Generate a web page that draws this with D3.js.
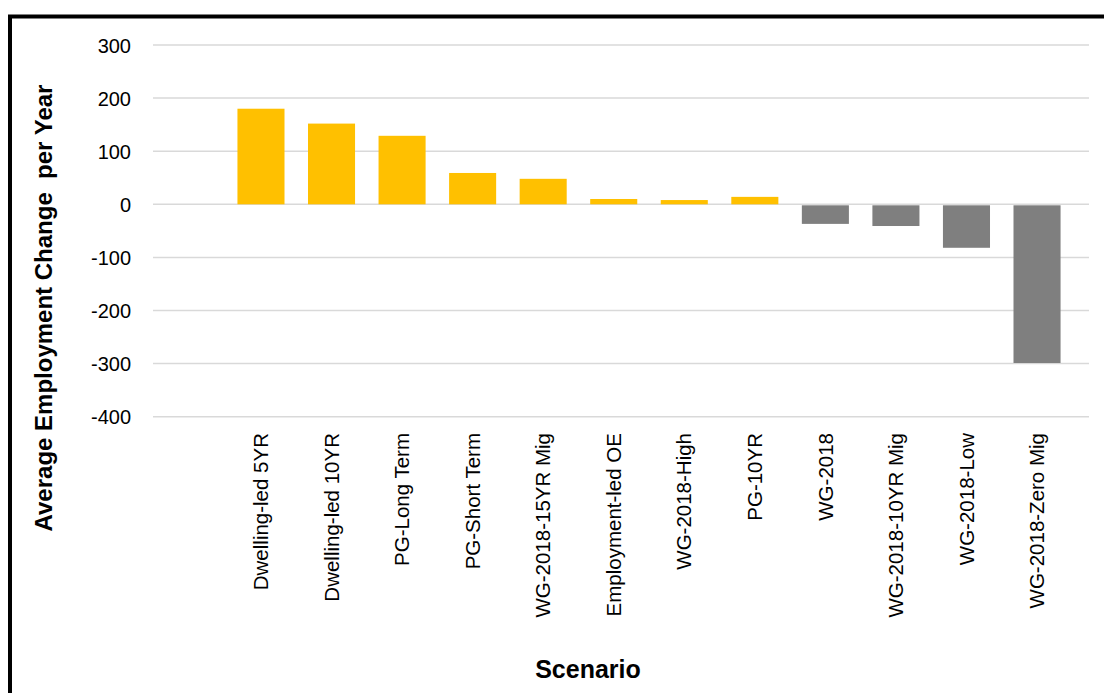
<!DOCTYPE html>
<html><head><meta charset="utf-8">
<script src="https://cdn.jsdelivr.net/npm/d3@7"></script>
<style>body{margin:0;background:#fff}svg{display:block}</style>
</head><body><svg id="c" width="1104" height="693"></svg>
<script>
const categories = ["Dwelling-led 5YR","Dwelling-led 10YR","PG-Long Term","PG-Short Term","WG-2018-15YR Mig","Employment-led OE","WG-2018-High","PG-10YR","WG-2018","WG-2018-10YR Mig","WG-2018-Low","WG-2018-Zero Mig"];
const values = [180, 152, 129, 59, 48, 10, 8, 14, -35, -39, -80, -297];
const yTicks = [300, 200, 100, 0, -100, -200, -300, -400];

const svg = d3.select("#c");
const font = "'Liberation Sans', Arial, sans-serif";
// border
svg.append("path").attr("d","M10,700 L10,16.5 L1104,16.5").attr("fill","none").attr("stroke","#000").attr("stroke-width",4);

const y = d3.scaleLinear().domain([-400,300]).range([416.7,45]);
const x = d3.scaleBand().domain(categories).range([225.7,1072.3]).paddingInner(0.333).paddingOuter(0.1665);
const gx0 = 153, gx1 = 1089;

const yAxis = d3.axisLeft(y).tickValues(yTicks).tickSize(0).tickPadding(0).tickFormat(d => String(d));
const ga = svg.append("g").attr("transform","translate(131,0)").call(yAxis);
ga.select(".domain").remove();
ga.selectAll("text").attr("font-family",font).attr("font-size",20).attr("fill","#000").attr("dy","0.36em");

svg.append("g").selectAll("line").data(yTicks).join("line")
  .attr("x1",gx0).attr("x2",gx1).attr("y1",d=>y(d)).attr("y2",d=>y(d))
  .attr("stroke","#d9d9d9").attr("stroke-width",1.5);

svg.append("g").selectAll("rect").data(values).join("rect")
  .attr("x",(d,i)=>x(categories[i])).attr("width",x.bandwidth())
  .attr("y",d=>d>=0?y(d):y(0)+1).attr("height",d=>Math.abs(y(d)-y(0)))
  .attr("fill",d=>d>=0?"#ffc000":"#7f7f7f");

const xAxis = d3.axisBottom(x).tickSize(0).tickPadding(0);
const gxa = svg.append("g").attr("transform","translate(0,433)").call(xAxis);
gxa.select(".domain").remove();
gxa.selectAll("text").attr("font-family",font).attr("font-size",20.5).attr("fill","#000")
  .attr("transform","rotate(-90)").attr("text-anchor","end").attr("dy","0.35em").attr("x",0).attr("y",0);

svg.append("text").attr("transform","translate(52,308) rotate(-90)").attr("text-anchor","middle")
  .attr("font-family",font).attr("font-weight","bold").attr("font-size",24).attr("fill","#000")
  .text("Average Employment Change\u00a0 per Year");
svg.append("text").attr("x",588).attr("y",678).attr("text-anchor","middle")
  .attr("font-family",font).attr("font-weight","bold").attr("font-size",25).attr("fill","#000")
  .text("Scenario");
</script></body></html>
